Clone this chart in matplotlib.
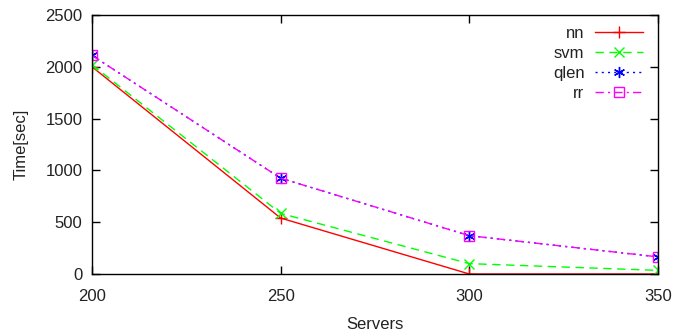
import matplotlib
matplotlib.use("Agg")
import matplotlib.pyplot as plt

servers = [200, 250, 300, 350]
nn = [2000, 540, 0, 0]
svm = [2020, 585, 100, 35]
qlen = [2110, 925, 370, 165]
rr = [2110, 925, 370, 165]

plt.rcParams['font.family'] = ['Liberation Sans', 'DejaVu Sans']

fig = plt.figure(figsize=(6.75, 3.35), dpi=100)
ax = fig.add_axes([92 / 675, 1 - 274 / 335, (658 - 92) / 675, (274 - 15) / 335])

ax.plot(servers, nn, color="#ff0000", lw=1, ls="-", marker="+", ms=8, mew=1, label="nn")
ax.plot(servers, svm, color="#00ff00", lw=1, ls=(0, (6, 4)), marker="x", ms=7, mew=1, label="svm")
ax.plot(servers, qlen, color="#0000ff", lw=1, ls=(0, (1.5, 3)), marker=(6, 2, 0), ms=8, mew=1, label="qlen")
ax.plot(servers, rr, color="#ff00ff", lw=1, ls=(0, (6, 3, 1.5, 3)), marker="s", ms=7, mew=1,
        mfc="none", label="rr")

ax.set_xlim(200, 350)
ax.set_ylim(0, 2500)
ax.set_xticks(servers)
ax.set_yticks([0, 500, 1000, 1500, 2000, 2500])
ax.tick_params(direction="in", top=True, right=True, length=6, width=1, labelsize=12,
               labelcolor="#222222")
ax.tick_params(axis="x", pad=11)
ax.tick_params(axis="y", pad=7)
for s in ax.spines.values():
    s.set_linewidth(1)
ax.set_xlabel("Servers", fontsize=12, labelpad=9, color="#222222")
ax.set_ylabel("Time[sec]", fontsize=12, labelpad=12, color="#222222")

leg = ax.legend(loc="upper right", frameon=False, fontsize=12, markerfirst=False,
                handlelength=2.9, handletextpad=0.6, labelspacing=0.3,
                borderaxespad=0.0, bbox_to_anchor=(0.985, 0.985))
for t in leg.get_texts():
    t.set_color("#222222")

fig.savefig("out.png", dpi=100)
